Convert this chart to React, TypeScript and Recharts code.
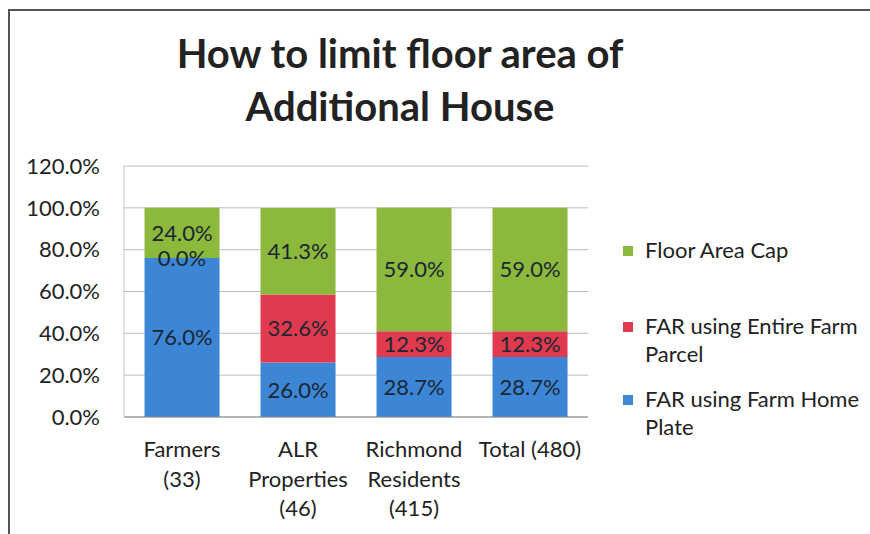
import React from "react";
import {
  BarChart,
  Bar,
  XAxis,
  YAxis,
  CartesianGrid,
  LabelList,
  ReferenceDot,
} from "recharts";

const categories = ["Farmers (33)", "ALR Properties (46)", "Richmond Residents (415)", "Total (480)"];
const categoryLines = [
  ["Farmers", "(33)"],
  ["ALR", "Properties", "(46)"],
  ["Richmond", "Residents", "(415)"],
  ["Total (480)"],
];
const homePlate = [76.0, 26.0, 28.7, 28.7];
const entireParcel = [0.0, 32.6, 12.3, 12.3];
const areaCap = [24.0, 41.3, 59.0, 59.0];
const yTicks = [0, 20, 40, 60, 80, 100, 120];

const seriesNames = {
  cap: "Floor Area Cap",
  parcel: "FAR using Entire Farm Parcel",
  plate: "FAR using Farm Home Plate",
};

const BLUE = "#3d86d6";
const RED = "#e03a4e";
const GREEN = "#8cb83c";
const FONT = "Lato, 'Open Sans', sans-serif";
const LABEL_COLOR = "#1b2633";

const data = categories.map((name, i) => ({
  name,
  plate: homePlate[i],
  parcel: entireParcel[i],
  cap: areaCap[i],
}));

const pct = (v: any) => `${Number(v).toFixed(1)}%`;

// eslint-disable-next-line @typescript-eslint/no-explicit-any
function CategoryTick({ x, y, payload }: any) {
  const lines = categoryLines[payload.index] ?? [payload.value];
  return (
    <text x={x} y={y} textAnchor="middle" fill="#222" fontSize={22} fontFamily={FONT}>
      {lines.map((l, i) => (
        <tspan key={i} x={x} dy={i === 0 ? 32 : 29.5}>
          {l}
        </tspan>
      ))}
    </text>
  );
}

const legendItems = [
  { key: "cap", color: GREEN, lines: ["Floor Area Cap"], top: 236 },
  { key: "parcel", color: RED, lines: ["FAR using Entire Farm", "Parcel"], top: 312 },
  { key: "plate", color: BLUE, lines: ["FAR using Farm Home", "Plate"], top: 385 },
];

const labelProps = { fill: LABEL_COLOR, fontSize: 22, fontFamily: FONT };

export default function App() {
  return (
    <div
      style={{
        position: "absolute",
        left: 0,
        top: 0,
        width: 870,
        height: 534,
        background: "#fff",
        fontFamily: FONT,
        overflow: "hidden",
      }}
    >
      <div
        style={{
          position: "absolute",
          left: 8,
          top: 9,
          width: 880,
          height: 540,
          borderTop: "2px solid #555",
          borderLeft: "2px solid #555",
        }}
      />
      <div
        style={{
          position: "absolute",
          left: 0,
          top: 27,
          width: 800,
          textAlign: "center",
          fontWeight: 700,
          fontSize: 40,
          lineHeight: "53px",
          color: "#222",
        }}
      >
        How to limit floor area of
        <br />
        Additional House
      </div>
      <div style={{ position: "absolute", left: 0, top: 0 }}>
        <BarChart
          width={870}
          height={534}
          data={data}
          margin={{ top: 166, right: 282, left: 0, bottom: 0 }}
          barCategoryGap="17.7%"
        >
          <CartesianGrid vertical={false} stroke="#bdbdbd" />
          <XAxis
            dataKey="name"
            height={117}
            interval={0}
            tickLine={false}
            axisLine={{ stroke: "#8c8c8c" }}
            tick={<CategoryTick />}
          />
          <YAxis
            width={124}
            domain={[0, 120]}
            ticks={yTicks}
            tickFormatter={pct}
            tickLine={false}
            tickSize={0}
            tickMargin={24}
            axisLine={{ stroke: "#c4c4c4" }}
            tick={{ fontSize: 22, fill: "#222", fontFamily: FONT }}
          />
          <Bar dataKey="plate" name={seriesNames.plate} stackId="a" fill={BLUE} isAnimationActive={false}>
            <LabelList dataKey="plate" position="center" formatter={pct} {...labelProps} />
          </Bar>
          <Bar dataKey="parcel" name={seriesNames.parcel} stackId="a" fill={RED} isAnimationActive={false}>
            <LabelList dataKey="parcel" position="center" formatter={pct} {...labelProps} />
          </Bar>
          <Bar dataKey="cap" name={seriesNames.cap} stackId="a" fill={GREEN} isAnimationActive={false}>
            <LabelList dataKey="cap" position="center" formatter={pct} {...labelProps} />
          </Bar>
          {data
            .filter((d) => d.parcel === 0)
            .map((d) => (
              <ReferenceDot
                key={d.name}
                x={d.name}
                y={d.plate + d.parcel}
                r={0}
                fill="none"
                stroke="none"
                label={{ value: pct(d.parcel), position: "center", ...labelProps }}
              />
            ))}
        </BarChart>
      </div>
      {legendItems.map((item) => (
        <div
          key={item.key}
          style={{ position: "absolute", left: 623, top: item.top, fontSize: 22, lineHeight: "28px", color: "#222" }}
        >
          <span
            style={{
              position: "absolute",
              left: 0,
              top: 10,
              width: 10,
              height: 10,
              background: item.color,
            }}
          />
          <div style={{ marginLeft: 22, whiteSpace: "nowrap" }}>
            {item.lines.map((l, i) => (
              <div key={i}>{l}</div>
            ))}
          </div>
        </div>
      ))}
    </div>
  );
}
